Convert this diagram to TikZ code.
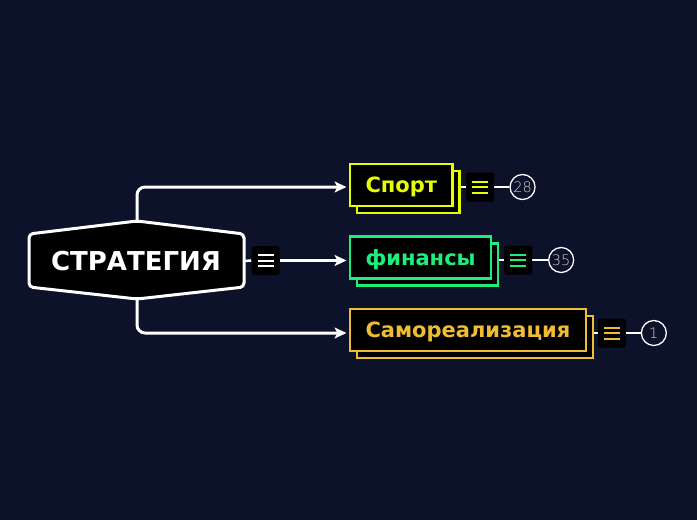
\documentclass[tikz,border=0pt]{standalone}
\usepackage{fontspec}
\setmainfont{DejaVu Sans}
\IfFontExistsTF{DejaVu Sans ExtraLight}{\newfontfamily\thinfont{DejaVu Sans ExtraLight}}{\newfontfamily\thinfont{DejaVu Sans}}
\usetikzlibrary{shadows,arrows.meta}
\definecolor{bgc}{HTML}{0B1229}
\definecolor{cyel}{HTML}{E5FF00}
\definecolor{cgrn}{HTML}{1CF07A}
\definecolor{corg}{HTML}{EFBD33}
\definecolor{cnum}{HTML}{D0D0D8}
\pgfdeclarelayer{bglayer}
\pgfdeclarelayer{lines}
\pgfsetlayers{bglayer,lines,main}
\tikzset{
  conn/.style={draw=white, line width=3pt, rounded corners=8pt, -{Stealth[length=12pt,width=11pt,inset=3pt]}, shorten >=2.5pt},
  link/.style={draw=white, line width=2.5pt},
  child/.style={draw=#1, text=#1, fill=black, line width=2.2pt, anchor=west,
    font=\bfseries\fontsize{21}{21}\selectfont, inner xsep=15.4pt, inner ysep=0pt,
    text height=15.3pt, text depth=0pt,
    minimum height=42pt, copy shadow={shadow xshift=7pt, shadow yshift=-7pt}},
  menuicon/.style={fill=black, rounded corners=2.5pt, minimum width=28pt, minimum height=29pt, inner sep=0pt,
    path picture={\foreach \dy in {-5.5,0,5.5} \draw[#1, line width=2pt, sharp corners]
      ([xshift=-8pt,yshift=\dy pt]path picture bounding box.center) -- ++(16pt,0);}},
  countc/.style={circle, draw=white, line width=1.3pt, fill=bgc, minimum size=25pt, inner sep=0pt,
    text=cnum, text height=10.5pt, text depth=0pt, font=\thinfont\fontsize{14.5}{14.5}\selectfont},
}
\begin{document}
\begin{tikzpicture}[x=1pt,y=-1pt]
\begin{pgfonlayer}{bglayer}
\fill[bgc] (0,0) rectangle (697,520);
\end{pgfonlayer}
\useasboundingbox (0,0) rectangle (697,520);

% root hexagon
\draw[white, line width=3pt, fill=black, rounded corners=4pt]
  (137,221) -- (244,234) -- (244,287) -- (137,299) -- (29,287) -- (29,234) -- cycle;
\coordinate (rootT) at (137,221);
\coordinate (rootB) at (137,299);
\coordinate (rootR) at (244,261);
\node[text=white, font=\bfseries\fontsize{26}{26}\selectfont, text height=19pt, text depth=0pt] (root) at (136,261) {СТРАТЕГИЯ};
\node[menuicon=white] (rootI) at (265.5,260.5) {};

% children
\node[child=cyel] (sp) at (349,185) {Спорт};
\node[child=cgrn] (fi) at (349,257.5) {финансы};
\node[child=corg] (sa) at (349,330) {Самореализация};

\node[menuicon=cyel] (spI) at ([xshift=26.5pt,yshift=-2pt]sp.east) {};
\node[menuicon=cgrn] (fiI) at ([xshift=26pt,yshift=-2.5pt]fi.east) {};
\node[menuicon=corg] (saI) at ([xshift=25pt,yshift=-3pt]sa.east) {};

\node[countc] (spN) at ([xshift=42.5pt]spI.center) {28};
\node[countc] (fiN) at ([xshift=43pt]fiI.center) {35};
\node[countc] (saN) at ([xshift=42pt]saI.center) {1};

\begin{pgfonlayer}{lines}
\draw[conn] (rootT) |- ([yshift=-2pt]sp.west);
\draw[conn] (rootB) |- ([yshift=-3pt]sa.west);
\draw[link] (rootR) -- (rootI.west);
\draw[conn] (rootI.east) -- (rootI.east -| fi.west);
\draw[link] (spI.west -| sp.east) -- (spI.west);
\draw[link] (fiI.west -| fi.east) -- (fiI.west);
\draw[link] (saI.west -| sa.east) -- (saI.west);
\draw[link] (spI.east) -- (spN.west);
\draw[link] (fiI.east) -- (fiN.west);
\draw[link] (saI.east) -- (saN.west);
\end{pgfonlayer}
\end{tikzpicture}
\end{document}
